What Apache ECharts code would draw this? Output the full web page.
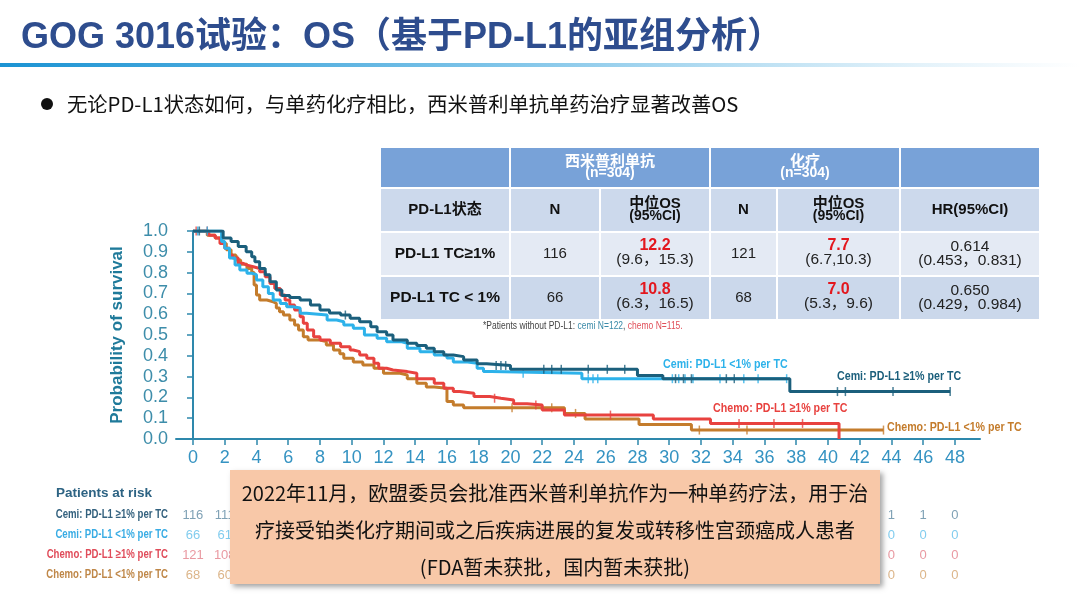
<!DOCTYPE html>
<html><head><meta charset="utf-8">
<script src="https://cdn.jsdelivr.net/npm/echarts@6/dist/echarts.min.js"></script>
<style>html,body{margin:0;padding:0;background:#fff}#c{width:1080px;height:608px}</style>
</head><body><div id="c"></div>
<script>
// ---------- text ----------
const titleText = 'GOG 3016试验：OS（基于PD-L1的亚组分析）';
const bulletText = '无论PD-L1状态如何，与单药化疗相比，西米普利单抗单药治疗显著改善OS';
const noteLines = ['2022年11月，欧盟委员会批准西米普利单抗作为一种单药疗法，用于治', '疗接受铂类化疗期间或之后疾病进展的复发或转移性宫颈癌成人患者', '(FDA暂未获批，国内暂未获批)'];
const yAxisName = 'Probability of survival';
const riskTitle = 'Patients at risk';

// ---------- axes ----------
const xTicks = [0,2,4,6,8,10,12,14,16,18,20,22,24,26,28,30,32,34,36,38,40,42,44,46,48];
const yTicks = [0,0.1,0.2,0.3,0.4,0.5,0.6,0.7,0.8,0.9,1.0];

// ---------- series ----------
const seriesNames = ['Cemi: PD-L1 ≥1% per TC','Cemi: PD-L1 <1% per TC','Chemo: PD-L1 ≥1% per TC','Chemo: PD-L1 <1% per TC'];
const cemiHigh = [[0,1],[1.9,0.966],[2.4,0.95],[2.85,0.925],[3.35,0.90],[3.7,0.876],[3.9,0.852],[4.2,0.82],[4.55,0.79],[4.85,0.756],[5.25,0.716],[5.6,0.69],[6.1,0.68],[6.75,0.668],[7.4,0.644],[8.0,0.62],[8.6,0.606],[9.3,0.596],[9.9,0.58],[10.5,0.564],[11.2,0.54],[11.6,0.516],[12.2,0.50],[12.6,0.476],[13.5,0.46],[14.1,0.45],[14.7,0.436],[15.2,0.42],[15.8,0.404],[16.4,0.396],[17.05,0.38],[17.9,0.362],[18.5,0.353],[20.0,0.335],[28.0,0.305],[29.6,0.29],[37.6,0.228],[47.7,0.228]];
const cemiLow = [[0,1],[1.8,0.95],[2.0,0.917],[2.3,0.87],[2.65,0.836],[2.95,0.812],[3.4,0.797],[3.7,0.79],[4.0,0.764],[4.4,0.732],[4.75,0.70],[5.05,0.668],[5.5,0.652],[5.9,0.636],[6.3,0.63],[6.75,0.604],[7.15,0.596],[8.45,0.572],[9.05,0.564],[9.5,0.548],[10.1,0.532],[10.8,0.50],[11.6,0.484],[12.2,0.468],[13.1,0.46],[13.5,0.436],[14.3,0.42],[15.2,0.404],[16.0,0.39],[16.4,0.37],[17.3,0.364],[17.9,0.34],[18.3,0.324],[18.8,0.316],[24.5,0.29],[37.4,0.29]];
const chemoHigh = [[0,1],[1.0,0.98],[1.4,0.966],[1.7,0.94],[2.0,0.917],[2.3,0.885],[2.5,0.87],[2.85,0.845],[3.15,0.836],[3.4,0.828],[3.8,0.82],[4.2,0.804],[4.55,0.78],[4.85,0.748],[5.15,0.724],[5.5,0.692],[5.8,0.668],[6.1,0.644],[6.4,0.62],[6.75,0.588],[6.95,0.556],[7.2,0.524],[7.6,0.492],[8.0,0.476],[8.65,0.46],[9.3,0.444],[9.9,0.428],[10.1,0.42],[10.5,0.404],[10.95,0.388],[11.4,0.364],[11.7,0.34],[12.2,0.332],[12.6,0.324],[13.5,0.316],[14.1,0.29],[15.2,0.268],[15.8,0.244],[16.4,0.228],[16.8,0.22],[17.7,0.204],[18.7,0.196],[19.4,0.187],[20.2,0.17],[21.05,0.163],[22.0,0.14],[23.4,0.115],[29.0,0.096],[32.6,0.075],[40.7,0]];
const chemoLow = [[0,1],[0.9,0.98],[1.4,0.966],[1.8,0.94],[2.1,0.91],[2.4,0.885],[2.7,0.86],[3.0,0.84],[3.4,0.82],[3.7,0.80],[3.85,0.74],[4.0,0.692],[4.2,0.668],[4.65,0.66],[5.05,0.652],[5.25,0.63],[5.45,0.612],[5.7,0.596],[6.1,0.572],[6.4,0.548],[6.65,0.524],[6.95,0.492],[7.25,0.476],[8.0,0.468],[8.4,0.452],[8.85,0.428],[9.25,0.41],[9.5,0.388],[10.1,0.37],[10.7,0.356],[11.4,0.34],[12.0,0.316],[13.05,0.308],[13.5,0.29],[14.1,0.268],[14.7,0.25],[15.2,0.244],[16.0,0.18],[16.4,0.163],[17.05,0.15],[23.4,0.123],[24.7,0.096],[28.1,0.07],[31.4,0.043],[43.5,0.043]];
const cemiHighCensor = [0.4,9.6,19.1,19.4,19.7,22.1,22.6,23.2,24.9,26.1,27.2,30.4,30.9,31.4,33.6,34.1,40.6,41.1,44.1,47.7];
const cemiLowCensor = [0.3,0.9,20.8,24.9,25.2,25.5,30.2,30.6,31.0,31.5,33.2,34.7,35.6,37.4];
const chemoHighCensor = [0.2,0.9,19.0,21.6,26.3,34.4,36.6,38.4];
const chemoLowCensor = [2.8,20.1,22.6,24.1,31.9,34.9,43.5];

// ---------- patients at risk ----------
const riskCemiHigh  = [116,111,97,78,70,63,52,44,35,28,22,18,15,12,10,8,6,5,4,3,2,2,1,1,0];
const riskCemiLow   = [66,61,54,43,39,35,30,26,21,16,13,11,9,7,6,5,3,2,1,0,0,0,0,0,0];
const riskChemoHigh = [121,108,95,75,55,45,36,30,24,18,14,11,9,7,6,5,4,3,2,2,1,0,0,0,0];
const riskChemoLow  = [68,60,50,38,30,25,21,18,14,9,8,7,5,4,4,3,2,2,2,1,1,1,0,0,0];

// ---------- table ----------
const armHeaders = ['西米普利单抗','化疗'];
const armN = ['(n=304)','(n=304)'];
const colHeaders = ['PD-L1状态','N','中位OS','N','中位OS','HR(95%CI)'];
const colSub = ['', '', '(95%CI)', '', '(95%CI)', ''];
const pdl1Groups = ['PD-L1 TC≥1%','PD-L1 TC < 1%'];
const cemiN = ['116','66'];
const cemiMedian = ['12.2','10.8'];
const cemiCI = ['(9.6，15.3)','(6.3，16.5)'];
const chemoN = ['121','68'];
const chemoMedian = ['7.7','7.0'];
const chemoCI = ['(6.7,10.3)','(5.3，9.6)'];
const hrValue = ['0.614','0.650'];
const hrCI = ['(0.453，0.831)','(0.429，0.984)'];
const footnote = ['*Patients without PD-L1: ', 'cemi N=122', ', ', 'chemo N=115.'];

// ---------- styling ----------
const lineColors = ['#1B5F7C','#2DB2EA','#E8423F','#C47C2C'];
const riskLabelColors = ['#33617E','#39ACE4','#E04C5A','#BF8748'];
const riskNumColors = ['#5F8AA3','#62BFEA','#E3808A','#D3A36C'];
const LAT = '"Liberation Sans", Arial, "Noto Sans CJK SC", sans-serif';
const CJK = '"Noto Sans CJK SC", "Liberation Sans", sans-serif';

function valAt(curve, t) {
  let v = curve[0][1];
  for (const p of curve) { if (p[0] <= t) v = p[1]; else break; }
  return v;
}

const chart = echarts.init(document.getElementById('c'));

const curves = [cemiHigh, cemiLow, chemoHigh, chemoLow];
const censors = [cemiHighCensor, cemiLowCensor, chemoHighCensor, chemoLowCensor];
const risks = [riskCemiHigh, riskCemiLow, riskChemoHigh, riskChemoLow];

const series = [];
curves.forEach((c, i) => {
  series.push({
    type: 'line', name: seriesNames[i], xAxisIndex: 0, yAxisIndex: 0,
    data: c, step: 'end', showSymbol: false, symbol: 'none',
    lineStyle: { color: lineColors[i], width: 3 }, z: 10 - i, animation: false
  });
});
censors.forEach((c, i) => {
  series.push({
    type: 'scatter', xAxisIndex: 0, yAxisIndex: 0,
    data: c.map(t => [t, valAt(curves[i], t)]),
    symbol: 'rect', symbolSize: [1.5, 9],
    itemStyle: { color: lineColors[i] }, z: 10 - i, animation: false, silent: true
  });
});
risks.forEach((r, i) => {
  series.push({
    type: 'scatter', xAxisIndex: 1, yAxisIndex: 1,
    data: r.map((v, k) => [xTicks[k], seriesNames[i], v]),
    symbolSize: 1, itemStyle: { color: 'transparent' },
    label: { show: true, position: 'inside', formatter: p => String(p.value[2]),
      color: riskNumColors[i], fontSize: 13, fontFamily: LAT },
    animation: false, silent: true
  });
});

// ---------- graphics ----------
const g = [];
function txt(x, y, text, font, fill, align, vAlign, z, sx) {
  return { type: 'text', z: z || 60, x, y, scaleX: sx || 1, style: { x: 0, y: 0, text, font, fill,
    textAlign: align || 'left', textVerticalAlign: vAlign || 'middle',
    align: align || 'left', verticalAlign: vAlign || 'middle' } };
}
// title
g.push(txt(21, 38, titleText, 'bold 36px ' + LAT, '#2E4D8E', 'left', 'middle'));
g.push({ type: 'rect', z: 5, shape: { x: 0, y: 63, width: 1080, height: 4 },
  style: { fill: new echarts.graphic.LinearGradient(0, 0, 1, 0, [
    { offset: 0, color: '#1B93D3' }, { offset: 0.45, color: '#7CC3E8' }, { offset: 0.85, color: '#E3F2FA' }, { offset: 1, color: '#ffffff' }]) } });
// bullet
g.push({ type: 'circle', z: 60, shape: { cx: 47, cy: 104, r: 6 }, style: { fill: '#111' } });
g.push(txt(67, 104, bulletText, '20.3px ' + CJK, '#111', 'left', 'middle'));

// table
const colX = [380, 510, 600, 710, 777, 900, 1040];
const rowY = [147, 188, 232, 276, 320];
const rowFill = ['#78A2D8', '#CCD9EC', '#E4EAF4', '#CBD8EB'];
const gap = 1;
function cell(x0, x1, y0, y1, fill) {
  g.push({ type: 'rect', z: 50, shape: { x: x0 + gap, y: y0 + gap, width: x1 - x0 - 2 * gap, height: y1 - y0 - 2 * gap }, style: { fill } });
}
const h1 = [[0, 1], [1, 3], [3, 5], [5, 6]];
h1.forEach(([a, b]) => cell(colX[a], colX[b], rowY[0], rowY[1], rowFill[0]));
for (let r = 1; r < 4; r++) for (let c = 0; c < 6; c++) cell(colX[c], colX[c + 1], rowY[r], rowY[r + 1], rowFill[r]);
[[1, 3], [3, 5]].forEach(([a, b], i) => {
  const cx = (colX[a] + colX[b]) / 2;
  g.push(txt(cx, 160, armHeaders[i], 'bold 15px ' + CJK, '#fff', 'center', 'middle', 70));
  g.push(txt(cx, 173, armN[i], 'bold 14px ' + LAT, '#fff', 'center', 'middle', 70));
});
colHeaders.forEach((h, c) => {
  const cx = (colX[c] + colX[c + 1]) / 2;
  if (colSub[c]) {
    g.push(txt(cx, 204, h, 'bold 15px ' + LAT, '#111', 'center', 'middle', 70));
    g.push(txt(cx, 216, colSub[c], 'bold 14px ' + LAT, '#111', 'center', 'middle', 70));
  } else {
    g.push(txt(cx, 210, h, 'bold 15px ' + LAT, '#111', 'center', 'middle', 70));
  }
});
pdl1Groups.forEach((grp, i) => {
  const yc = (rowY[2 + i] + rowY[3 + i]) / 2;
  const cxs = colX.slice(0, 6).map((x, c) => (x + colX[c + 1]) / 2);
  g.push(txt(cxs[0], yc, grp, 'bold 15.5px ' + LAT, '#111', 'center', 'middle', 70));
  g.push(txt(cxs[1], yc, cemiN[i], '15px ' + LAT, '#222', 'center', 'middle', 70));
  g.push(txt(cxs[2], yc - 8, cemiMedian[i], 'bold 16px ' + LAT, '#E3171E', 'center', 'middle', 70));
  g.push(txt(cxs[2], yc + 6, cemiCI[i], '15.5px ' + LAT, '#222', 'center', 'middle', 70));
  g.push(txt(cxs[3], yc, chemoN[i], '15px ' + LAT, '#222', 'center', 'middle', 70));
  g.push(txt(cxs[4], yc - 8, chemoMedian[i], 'bold 16px ' + LAT, '#E3171E', 'center', 'middle', 70));
  g.push(txt(cxs[4], yc + 6, chemoCI[i], '15.5px ' + LAT, '#222', 'center', 'middle', 70));
  g.push(txt(cxs[5], yc - 7, hrValue[i], '15.5px ' + LAT, '#222', 'center', 'middle', 70));
  g.push(txt(cxs[5], yc + 7, hrCI[i], '15.5px ' + LAT, '#222', 'center', 'middle', 70));
});
g.push({ type: 'text', z: 60, x: 483, y: 326, scaleX: 0.85, style: { x: 0, y: 0, text: '{a|' + footnote[0] + '}{b|' + footnote[1] + '}{a|' + footnote[2] + '}{c|' + footnote[3] + '}',
  textVerticalAlign: 'middle', verticalAlign: 'middle',
  rich: { a: { font: '10px ' + LAT, fill: '#444', color: '#444' }, b: { font: '10px ' + LAT, fill: '#3A8AA8', color: '#3A8AA8' }, c: { font: '10px ' + LAT, fill: '#E0505A', color: '#E0505A' } } } });

// in-plot curve labels
const curveLabelPos = [[837, 376], [663, 364], [713, 408], [887, 427]];
seriesNames.forEach((n, i) => g.push(txt(curveLabelPos[i][0], curveLabelPos[i][1], n, 'bold 13px ' + LAT, lineColors[i], 'left', 'middle', 40, 0.82)));

// risk title
g.push(txt(104, 493, riskTitle, 'bold 13.5px ' + LAT, '#2D6383', 'center', 'middle', 40));
// risk row labels (right-aligned, condensed)
seriesNames.forEach((n, i) => g.push(txt(168, 515 + 20 * i, n, 'bold 12.5px ' + LAT, riskLabelColors[i], 'right', 'middle', 40, 0.77)));

// note box
g.push({ type: 'rect', z: 90, shape: { x: 230, y: 470, width: 650, height: 114 },
  style: { fill: '#F8C8A8', shadowBlur: 5, shadowColor: 'rgba(0,0,0,0.35)', shadowOffsetX: 3, shadowOffsetY: 3 } });
[493, 530, 567].forEach((y, i) => g.push(txt(555, y, noteLines[i], '20px ' + CJK, '#111', 'center', 'middle', 95)));

const option = {
  backgroundColor: '#fff',
  animation: false,
  grid: [
    { left: 176, right: 100, top: 231, bottom: 169 },
    { left: 176, right: 100, top: 505, height: 80 }
  ],
  xAxis: [
    { type: 'value', gridIndex: 0, min: -1.07, max: 49.58,
      axisLine: { show: true, lineStyle: { color: '#2E88AC', width: 2 } },
      axisTick: { show: true, length: 6, customValues: xTicks, lineStyle: { color: '#2E88AC', width: 1.5 } },
      axisLabel: { customValues: xTicks, color: '#3593C2', fontSize: 18, fontFamily: LAT, margin: 10 },
      splitLine: { show: false } },
    { type: 'value', gridIndex: 1, min: -1.07, max: 49.58, show: false }
  ],
  yAxis: [
    { type: 'value', gridIndex: 0, min: 0, max: 1, interval: 0.1,
      name: yAxisName, nameLocation: 'middle', nameGap: 50,
      nameTextStyle: { color: '#1F7A9A', fontSize: 17, fontWeight: 'bold', fontFamily: LAT },
      axisLine: { show: true, lineStyle: { color: '#2E88AC', width: 2 } },
      axisTick: { show: true, length: 6, lineStyle: { color: '#2E88AC', width: 1.5 } },
      axisLabel: { formatter: v => v.toFixed(1), color: '#3D8DAA', fontSize: 18, fontFamily: LAT, margin: 8 },
      splitLine: { show: false } },
    { type: 'category', gridIndex: 1, data: seriesNames, inverse: true, show: false }
  ],
  series,
  graphic: { elements: g }
};
chart.setOption(option);
</script>
</body></html>
